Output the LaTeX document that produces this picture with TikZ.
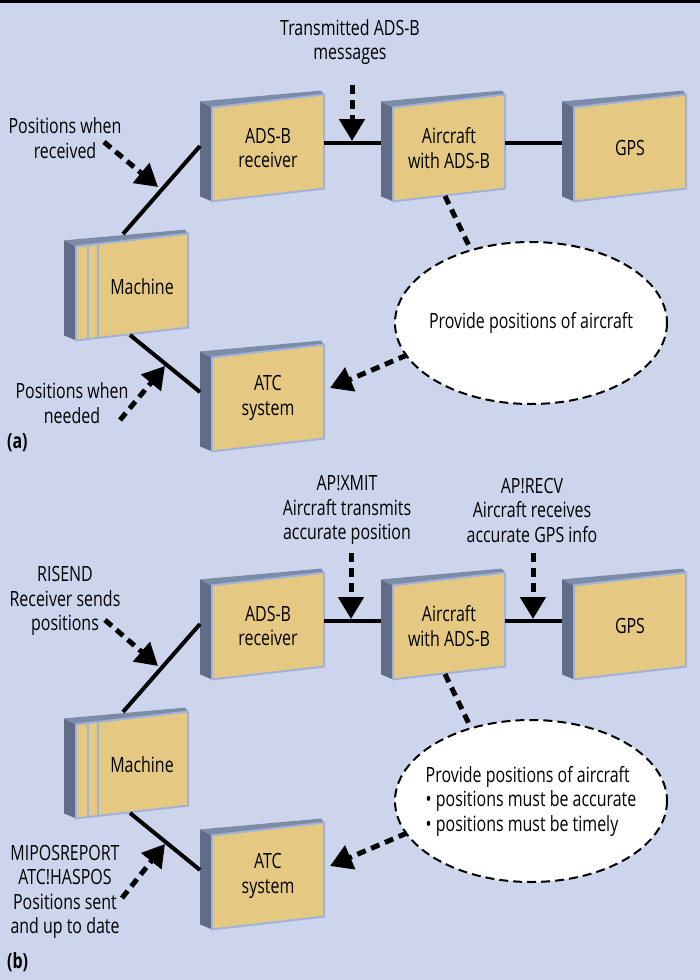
\documentclass[tikz,border=0pt]{standalone}
\usepackage{fontspec}
\setmainfont{Open Sans}[FakeStretch=0.76]
\usetikzlibrary{arrows.meta,shapes.geometric}
\definecolor{bg}{RGB}{204,213,236}
\definecolor{tanc}{RGB}{229,201,130}
\definecolor{rim}{RGB}{160,178,215}
\definecolor{sidec}{RGB}{96,108,136}
\definecolor{topc}{RGB}{124,139,168}
\tikzset{
  lbl/.style={align=center, font=\fontsize{21}{24.5}\selectfont, inner sep=0pt},
  solidlink/.style={line width=4pt},
  dashlink/.style={line width=5pt, dash pattern=on 9pt off 6pt},
  dasharrow/.style={dashlink, -{Triangle[length=22pt,width=25pt]}},
  goalrim/.style={draw, fill=white, line width=2pt, dash pattern=on 9pt off 5pt},
  tag/.style={anchor=west, font=\fontsize{21}{24}\selectfont\bfseries, inner sep=0pt}
}
\newcommand\boxfaces[3]{% name, cx, cy
  \fill[sidec] (#2-56,#3-40.6) -- (#2-56,#3+53.4) -- (#2-68,#3+48.4) -- (#2-68,#3-46.6) -- cycle;
  \fill[topc] (#2-56,#3-40.6) -- (#2-68,#3-46.6) -- (#2+53,#3-57.4) -- (#2+56,#3-53.4) -- cycle;
  \filldraw[fill=tanc, draw=rim, line width=2pt] (#2-56,#3-40.6) -- (#2+56,#3-53.4) -- (#2+56,#3+40.6) -- (#2-56,#3+53.4) -- cycle;
}
\newcommand\unitbox[4]{% name, cx, cy, text
  \boxfaces{#1}{#2}{#3}
  \node[lbl] (#1) at (#2,#3) {#4};
}
\newcommand\machinebox[3]{% name, cx, cy
  \boxfaces{#1}{#2}{#3}
  \draw[rim, line width=2pt] (#2-44,#3-41.9) -- (#2-44,#3+52.1);
  \draw[rim, line width=2pt] (#2-34,#3-43.1) -- (#2-34,#3+50.9);
  \node[lbl] (#1) at (#2+10,#3) {Machine};
}
\begin{document}
\begin{tikzpicture}[x=1pt,y=-1pt]
\fill[bg] (0,0) rectangle (700,980);
\useasboundingbox (0,0) rectangle (700,980);
\fill[black] (0,0) rectangle (700,2.5);

% ---------------- (a) ----------------
\unitbox{rcvA}{268}{148}{ADS-B\\receiver}
\unitbox{acA}{449}{148}{Aircraft\\with ADS-B}
\unitbox{gpsA}{630}{148}{GPS}
\machinebox{machA}{132}{287}
\unitbox{atcA}{268}{398}{ATC\\system}
\draw[goalrim] (531,323) ellipse [x radius=136, y radius=81];
\node[lbl] (goalA) at (531,323) {Provide positions of aircraft};

\node[lbl] (txA) at (350,42) {Transmitted ADS-B\\messages};
\node[lbl] (recA) at (65,138) {Positions when\\received};
\node[lbl] (needA) at (72,403) {Positions when\\needed};
\node[tag] (tagA) at (7,443) {(a)};

\coordinate (mA-top) at (123,234);
\coordinate (rA-left) at (200,146);
\coordinate (mA-bot) at (130,335);
\coordinate (atcA-left) at (200,392);
\coordinate (rA-right) at (324,143);
\coordinate (acA-left) at (381,143);
\coordinate (acA-right) at (505,143);
\coordinate (gpsA-left) at (562,143);
\coordinate (txA-s) at (352,85);
\coordinate (txA-t) at (352,141);
\coordinate (recA-s) at (104,142);
\coordinate (recA-t) at (158,187);
\coordinate (needA-s) at (120,420);
\coordinate (needA-t) at (165,366);
\coordinate (acA-bot) at (445,196);
\coordinate (goalA-top) at (470,248);
\coordinate (goalA-left) at (407,355);
\coordinate (atcA-right) at (330,388);

\draw[solidlink] (mA-top) -- (rA-left);
\draw[solidlink] (mA-bot) -- (atcA-left);
\draw[solidlink] (rA-right) -- (acA-left);
\draw[solidlink] (acA-right) -- (gpsA-left);
\draw[dasharrow] (txA-s) -- (txA-t);
\draw[dasharrow] (recA-s) -- (recA-t);
\draw[dasharrow] (needA-s) -- (needA-t);
\draw[dashlink] (acA-bot) -- (goalA-top);
\draw[dasharrow] (goalA-left) -- (atcA-right);

% ---------------- (b) ----------------
\unitbox{rcvB}{268}{626}{ADS-B\\receiver}
\unitbox{acB}{449}{626}{Aircraft\\with ADS-B}
\unitbox{gpsB}{630}{626}{GPS}
\machinebox{machB}{132}{765}
\unitbox{atcB}{268}{876}{ATC\\system}
\draw[goalrim] (531,801) ellipse [x radius=136, y radius=81];
\node[lbl, align=left] (goalB) at (531,801) {Provide positions of aircraft\\• positions must be accurate\\• positions must be timely};

\node[lbl] (xmitB) at (347,510) {AP!XMIT\\Aircraft transmits\\accurate position};
\node[lbl] (recvB) at (532,510) {AP!RECV\\Aircraft receives\\accurate GPS info};
\node[lbl] (risB) at (65,601) {RISEND\\Receiver sends\\positions};
\node[lbl] (miB) at (65,892) {MIPOSREPORT\\ATC!HASPOS\\Positions sent\\and up to date};
\node[tag] (tagB) at (7,962) {(b)};

\coordinate (mB-top) at (123,712);
\coordinate (rB-left) at (200,624);
\coordinate (mB-bot) at (130,813);
\coordinate (atcB-left) at (200,870);
\coordinate (rB-right) at (324,621);
\coordinate (acB-left) at (381,621);
\coordinate (acB-right) at (505,621);
\coordinate (gpsB-left) at (562,621);
\coordinate (xmitB-s) at (351,553);
\coordinate (xmitB-t) at (351,619);
\coordinate (recvB-s) at (533,553);
\coordinate (recvB-t) at (533,619);
\coordinate (risB-s) at (105,620);
\coordinate (risB-t) at (158,666);
\coordinate (miB-s) at (122,898);
\coordinate (miB-t) at (165,844);
\coordinate (acB-bot) at (445,674);
\coordinate (goalB-top) at (470,726);
\coordinate (goalB-left) at (407,833);
\coordinate (atcB-right) at (330,866);

\draw[solidlink] (mB-top) -- (rB-left);
\draw[solidlink] (mB-bot) -- (atcB-left);
\draw[solidlink] (rB-right) -- (acB-left);
\draw[solidlink] (acB-right) -- (gpsB-left);
\draw[dasharrow] (xmitB-s) -- (xmitB-t);
\draw[dasharrow] (recvB-s) -- (recvB-t);
\draw[dasharrow] (risB-s) -- (risB-t);
\draw[dasharrow] (miB-s) -- (miB-t);
\draw[dashlink] (acB-bot) -- (goalB-top);
\draw[dasharrow] (goalB-left) -- (atcB-right);
\end{tikzpicture}
\end{document}
